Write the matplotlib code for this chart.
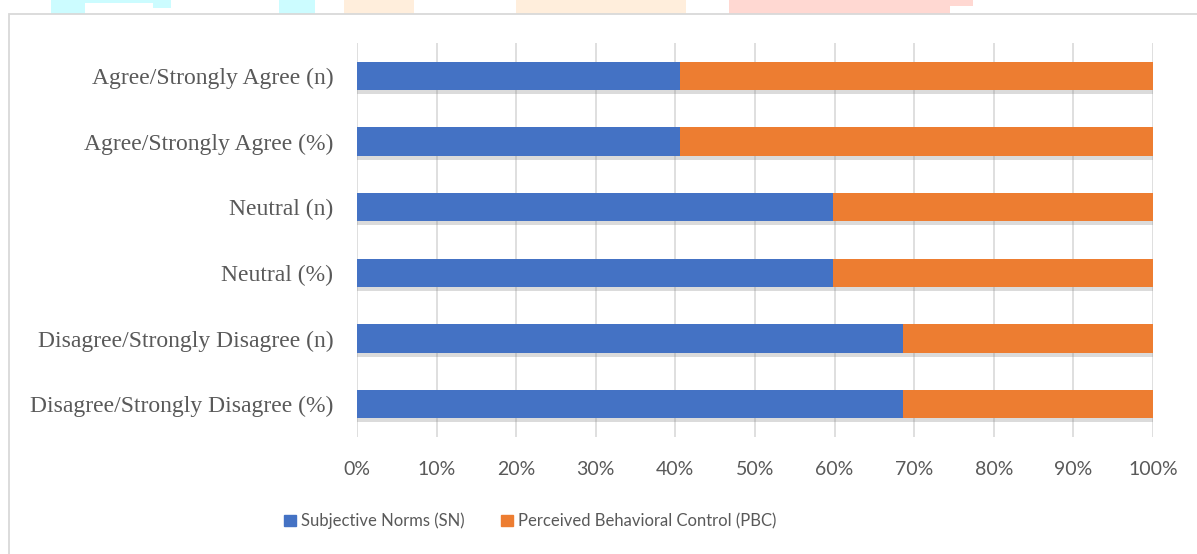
import matplotlib.pyplot as plt
import matplotlib.patheffects as pe
from matplotlib.patches import Rectangle
import numpy as np

categories = ['Disagree/Strongly Disagree (%)', 'Disagree/Strongly Disagree (n)',
              'Neutral (%)', 'Neutral (n)',
              'Agree/Strongly Agree (%)', 'Agree/Strongly Agree (n)']
sn = [68.6, 68.6, 59.8, 59.8, 40.6, 40.6]
pbc = [31.4, 31.4, 40.2, 40.2, 59.4, 59.4]
xticks = [0, 10, 20, 30, 40, 50, 60, 70, 80, 90, 100]

blue = '#4472C4'
orange = '#ED7D31'

fig = plt.figure(figsize=(11.97, 5.54), dpi=100)
W, H = 1197, 554

# faded watermark fragments along the top edge
for x0, x1, y1, c in [(51, 85, 14, '#CCFCFF'), (85, 153, 3, '#CCFCFF'), (153, 171, 8, '#CCFCFF'),
                      (279, 315, 14, '#CCFCFF'), (344, 414, 14, '#FFEEDC'),
                      (516, 686, 14, '#FFEEDC'), (729, 950, 14, '#FFD8D2'),
                      (950, 973, 6, '#FFD8D2')]:
    fig.patches.append(Rectangle((x0 / W, 1 - y1 / H), (x1 - x0) / W, y1 / H,
                                 transform=fig.transFigure, color=c, lw=0, zorder=0))

# chart frame
fig.patches.append(Rectangle((9 / W, -0.05), 1.1, 1 - 14 / H + 0.05, transform=fig.transFigure,
                             fill=False, ec='#D9D9D9', lw=1.3, zorder=1))

ax = fig.add_axes([357 / W, 1 - 437 / H, (1153 - 357) / W, (437 - 43) / H])
y = np.arange(len(categories))
shadow = [pe.SimplePatchShadow(offset=(0, -3), shadow_rgbFace='#888888', alpha=0.3), pe.Normal()]
b1 = ax.barh(y, sn, height=0.43, color=blue, label='Subjective Norms (SN)', zorder=3)
b2 = ax.barh(y, pbc, left=sn, height=0.43, color=orange,
             label='Perceived Behavioral Control (PBC)', zorder=3)
for b in list(b1) + list(b2):
    b.set_path_effects(shadow)

ax.set_xlim(0, 100)
ax.set_ylim(-0.5, len(categories) - 0.5)
ax.set_xticks(xticks)
ax.set_xticklabels([f'{v}%' for v in xticks], fontsize=14, color='#595959', family='Lato')
ax.set_yticks(y)
ax.set_yticklabels(categories, fontsize=17, color='#595959', family='Liberation Serif')
ax.tick_params(length=0, pad=17, axis='y')
ax.tick_params(length=0, pad=17, axis='x')
ax.grid(axis='x', color='#D9D9D9', lw=1.2, zorder=0)
for s in ax.spines.values():
    s.set_visible(False)

handles = [Rectangle((0, 0), 1, 1, color=blue), Rectangle((0, 0), 1, 1, color=orange)]
leg = fig.legend(handles, ['Subjective Norms (SN)', 'Perceived Behavioral Control (PBC)'],
                 loc='center', bbox_to_anchor=(530 / W, 1 - 521 / H), ncol=2, frameon=False,
                 prop={'family': 'Lato', 'size': 12}, handlelength=0.7, handleheight=0.7,
                 handletextpad=0.3, columnspacing=2.2)
for t in leg.get_texts():
    t.set_color('#595959')

fig.savefig('out.png', dpi=100)
